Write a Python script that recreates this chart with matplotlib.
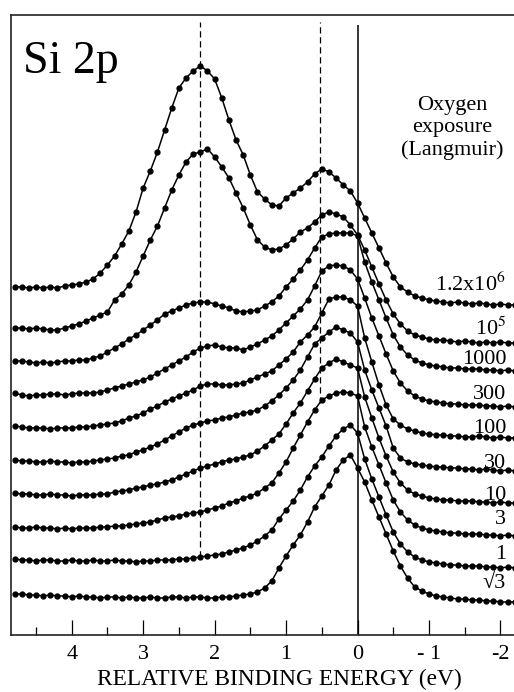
import numpy as np
import matplotlib
matplotlib.use("Agg")
import matplotlib.pyplot as plt
from matplotlib.ticker import MultipleLocator

plt.rcParams['font.family'] = ['Liberation Serif', 'DejaVu Serif']
plt.rcParams['mathtext.fontset'] = 'stix'

# binding energy grid, 4.8 eV down to -2.2 eV in 0.1 eV steps
energy = np.round(np.arange(4.8, -2.25, -0.1), 1)

# stacked Si 2p intensities (arb. units), one list per oxygen exposure
si2p_1p2e6 = [348, 348, 347, 348, 347, 348, 347, 349, 350, 351,
              353, 356, 362, 370, 379, 391, 404, 423, 447, 464,
              483, 505, 527, 547, 557, 564, 569, 564, 556, 537,
              515, 495, 480, 460, 443, 436, 430, 429, 437, 442,
              447, 453, 461, 466, 463, 457, 450, 444, 432, 417,
              402, 387, 372, 358, 348, 343, 339, 337, 335, 334,
              333, 332, 333, 332, 331, 332, 331, 330, 331, 330, 330]
si2p_1e5 = [307, 307, 306, 307, 306, 305, 305, 307, 309, 311,
            314, 317, 320, 323, 335, 341, 350, 363, 379, 395,
            409, 427, 445, 460, 473, 481, 483, 486, 478, 468,
            457, 442, 427, 410, 395, 388, 385, 386, 390, 396,
            403, 407, 413, 420, 423, 421, 418, 410, 400, 385,
            368, 351, 335, 321, 311, 304, 300, 298, 296, 295,
            295, 294, 293, 294, 293, 292, 293, 292, 293, 292, 292]
si2p_1000 = [274, 274, 273, 272, 273, 272, 273, 274, 274, 275,
             275, 277, 279, 283, 287, 291, 296, 300, 305, 310,
             315, 321, 324, 327, 330, 332, 333, 333, 331, 329,
             327, 324, 323, 324, 325, 329, 333, 339, 348, 356,
             365, 375, 387, 398, 401, 402, 402, 402, 399, 373,
             353, 335, 317, 300, 288, 280, 275, 272, 270, 269,
             268, 267, 267, 266, 266, 266, 265, 265, 264, 265, 264]
si2p_300 = [242, 240, 239, 240, 240, 241, 241, 240, 241, 242,
            242, 242, 243, 245, 247, 249, 251, 253, 255, 258,
            262, 266, 270, 274, 278, 283, 287, 289, 290, 288,
            287, 287, 285, 288, 291, 295, 299, 305, 312, 319,
            326, 335, 349, 364, 369, 370, 369, 365, 356, 337,
            317, 299, 281, 264, 252, 244, 239, 236, 234, 233,
            232, 231, 231, 230, 230, 230, 229, 229, 228, 229, 228]
si2p_100 = [209, 208, 207, 207, 207, 206, 207, 207, 207, 208,
            208, 209, 210, 211, 212, 214, 217, 219, 222, 226,
            229, 233, 236, 239, 242, 245, 249, 251, 251, 250,
            250, 251, 252, 255, 258, 261, 264, 270, 276, 283,
            293, 300, 308, 322, 336, 338, 338, 335, 329, 297,
            273, 250, 230, 216, 210, 206, 204, 202, 201, 200,
            200, 199, 199, 198, 198, 199, 198, 197, 198, 197, 197]
si2p_30 = [175, 174, 174, 173, 173, 174, 173, 173, 172, 173,
           173, 174, 175, 176, 177, 179, 180, 183, 185, 188,
           191, 195, 199, 203, 207, 210, 212, 214, 215, 217,
           218, 220, 222, 223, 225, 229, 234, 240, 247, 255,
           265, 278, 291, 297, 303, 308, 305, 302, 293, 265,
           245, 227, 209, 187, 177, 173, 171, 170, 169, 168,
           168, 167, 167, 166, 166, 165, 166, 165, 164, 165, 164]
si2p_10 = [142, 141, 141, 140, 140, 141, 140, 140, 139, 140,
           140, 140, 141, 141, 143, 144, 145, 147, 148, 150,
           151, 153, 155, 158, 161, 164, 167, 169, 171, 173,
           175, 176, 178, 180, 184, 189, 195, 201, 211, 222,
           232, 244, 256, 267, 272, 276, 273, 270, 267, 238,
           217, 197, 179, 163, 152, 145, 141, 139, 137, 136,
           135, 135, 134, 134, 134, 133, 133, 132, 133, 132, 132]
si2p_3 = [108, 107, 107, 108, 107, 107, 106, 107, 106, 107,
          107, 107, 108, 108, 109, 109, 110, 111, 112, 113,
          115, 117, 118, 119, 121, 122, 123, 125, 127, 129,
          132, 134, 137, 139, 142, 147, 152, 162, 173, 187,
          200, 213, 225, 235, 239, 242, 243, 242, 239, 208,
          188, 170, 152, 135, 123, 115, 110, 107, 105, 104,
          103, 102, 102, 101, 101, 101, 100, 100, 99, 100, 99]
si2p_1 = [76, 75, 75, 74, 75, 75, 74, 74, 75, 74,
          74, 75, 74, 74, 75, 74, 74, 73, 74, 74,
          75, 75, 75, 76, 76, 77, 78, 79, 80, 81,
          83, 85, 87, 90, 94, 99, 105, 116, 125, 134,
          145, 158, 169, 178, 189, 199, 206, 210, 202, 176,
          156, 138, 120, 103, 91, 83, 78, 75, 73, 72,
          71, 70, 70, 69, 69, 69, 68, 68, 67, 68, 67]
si2p_sqrt3 = [41, 41, 40, 40, 39, 40, 39, 39, 38, 39,
              38, 38, 37, 38, 38, 37, 38, 37, 37, 38,
              37, 37, 38, 38, 37, 38, 38, 37, 37, 38,
              38, 39, 40, 41, 43, 47, 54, 67, 79, 90,
              100, 113, 128, 139, 150, 165, 175, 180, 167, 153,
              135, 118, 101, 84, 69, 57, 48, 44, 41, 39,
              38, 37, 36, 36, 35, 35, 34, 34, 33, 33, 33]

spectra = [si2p_1p2e6, si2p_1e5, si2p_1000, si2p_300, si2p_100,
           si2p_30, si2p_10, si2p_3, si2p_1, si2p_sqrt3]
exposure_labels = ["1.2x10$^{6}$", "10$^{5}$", "1000", "300", "100",
                   "30", "10", "3", "1", "\u221a3"]

tick_pos = [4, 3, 2, 1, 0, -1, -2]
tick_text = ["4", "3", "2", "1", "0", "- 1", "-2"]

# component reference energies (eV)
oxide_peak = 2.2
suboxide_peak = 0.53

fig = plt.figure(figsize=(5.14, 6.92), dpi=100)
ax = fig.add_axes([0.0214, 0.0824, 0.9786, 0.896])

for y in spectra:
    ax.plot(energy, y, color="black", lw=1.1, marker="o", ms=3.5,
            mec="black", mfc="black")

# how far above the tail each exposure label sits
label_lift = [13, 7, 7, 8, 4, 3, 2, 12, 9, 14]
for y, txt, lift in zip(spectra, exposure_labels, label_lift):
    ax.text(-2.08, y[-3] + lift, txt, ha="right", va="baseline", fontsize=16)

# guide lines
rev_e = energy[::-1]
ax.vlines(oxide_peak, np.interp(oxide_peak, rev_e, si2p_1[::-1]), 613,
          colors="black", linestyles=(0, (5, 3)), lw=0.9)
ax.vlines(suboxide_peak, np.interp(suboxide_peak, rev_e, si2p_3[::-1]), 613,
          colors="black", linestyles=(0, (5, 3)), lw=0.9)
ax.vlines(0, 0, 610, colors="black", lw=1.1)

ax.text(0.024, 0.958, "Si 2p", transform=ax.transAxes, ha="left", va="top",
        fontsize=33)
ax.text(-1.32, 539, "Oxygen\nexposure\n(Langmuir)", ha="center", va="top",
        fontsize=16, linespacing=1.22)

ax.set_xlim(4.85, -2.19)
ax.set_ylim(0, 620)
ax.set_xticks(tick_pos)
ax.set_xticklabels(tick_text)
ax.xaxis.set_minor_locator(MultipleLocator(0.5))
ax.set_yticks([])
ax.tick_params(axis="x", which="major", direction="in", length=11, width=0.9,
               labelsize=16, pad=7.5)
ax.tick_params(axis="x", which="minor", direction="in", length=5.5, width=0.9)
ax.set_xlabel("RELATIVE BINDING ENERGY (eV)", fontsize=16.8, labelpad=3,
              x=0.533)

for side in ("left", "top", "bottom"):
    ax.spines[side].set_linewidth(1.2)
    ax.spines[side].set_color("#222222")
ax.spines["right"].set_visible(False)

fig.savefig("out.png", dpi=100)
